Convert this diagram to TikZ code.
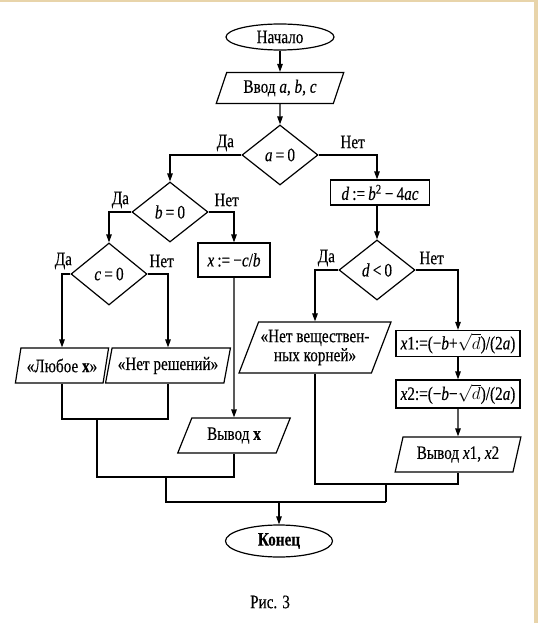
\documentclass[tikz,border=0pt]{standalone}
\usepackage{fontspec}
\setmainfont{Liberation Serif}[FakeStretch=0.8,FakeBold=0.3]
\usetikzlibrary{shapes.geometric,arrows.meta,calc}
\definecolor{beige}{RGB}{232,212,170}
\tikzset{
  base/.style={draw, line width=1.2pt, font=\fontsize{19}{19}\selectfont, inner sep=1pt},
  term/.style={base, ellipse, minimum width=108pt, minimum height=26pt},
  proc/.style={base, rectangle},
  dec/.style={base, diamond, minimum width=76pt, minimum height=60pt, inner sep=0pt},
  io/.style={base, trapezium, trapezium stretches=true, inner sep=0pt},
  lbl/.style={font=\fontsize{19}{19}\selectfont, inner sep=0pt},
  ln/.style={line width=1.2pt},
  arr/.style={ln, -{Triangle[length=8pt,width=5.5pt]}},
}
\begin{document}
\begin{tikzpicture}[x=1pt,y=-1pt]
\useasboundingbox (0,0) rectangle (538,623);
\fill[white] (0,0) rectangle (538,623);
\fill[beige] (0,0) rectangle (538,2);
\fill[beige] (534,0) rectangle (538,623);

\node[term] (start) at (280,37) {Начало};
\node[io, trapezium left angle=67, trapezium right angle=113, minimum width=128pt, minimum height=31pt] (inp) at (280,88) {Ввод \textit{a}, \textit{b}, \textit{c}};
\node[dec] (a0) at (280,155) {\textit{a}\,=\,0};
\node[dec] (b0) at (170,212) {\textit{b}\,=\,0};
\node[dec, minimum height=62pt] (c0) at (109,274) {\textit{c}\,=\,0};
\node[proc, minimum width=99pt, minimum height=25pt] (dd) at (380,192.5) {\textit{d}\,:=\,\textit{b}\textsuperscript{2}\,−\,4\textit{ac}};
\node[dec] (d0) at (377,270) {\textit{d}\,<\,0};
\node[proc, minimum width=72pt, minimum height=34pt] (xcb) at (234,260) {\textit{x}\,:=\,−\textit{c}/\textit{b}};
\node[io, trapezium left angle=71, trapezium right angle=109, minimum width=94pt, minimum height=35pt] (any) at (62,365.5) {«Любое \textbf{x}»};
\node[io, trapezium left angle=71, trapezium right angle=109, minimum width=125pt, minimum height=35pt] (nosol) at (168,365.5) {«Нет решений»};
\node[io, trapezium left angle=62, trapezium right angle=118, minimum width=152pt, minimum height=51pt, align=center] (noreal) at (315,347.5) {«Нет веществен-\\ных корней»};
\node[io, trapezium left angle=61, trapezium right angle=119, minimum width=113pt, minimum height=35pt] (outx) at (234,435.5) {Вывод \textbf{x}};
\node[proc, minimum width=124pt, minimum height=26pt, inner sep=0pt] (x1) at (458,343.5) {\textit{x}1:=(−\textit{b}+$\sqrt{d}$)/(2\textit{a})};
\node[proc, minimum width=124pt, minimum height=28pt, inner sep=0pt] (x2) at (458,394) {\textit{x}2:=(−\textit{b}−$\sqrt{d}$)/(2\textit{a})};
\node[io, trapezium left angle=70, trapezium right angle=110, minimum width=126pt, minimum height=35pt] (outx12) at (458,454.5) {Вывод \textit{x}1, \textit{x}2};
\node[term, minimum width=107pt, minimum height=32pt, font=\fontsize{19}{19}\selectfont\bfseries] (end) at (279,541) {Конец};
\node[font=\fontsize{19}{19}\selectfont] (cap) at (270,602) {Рис. 3};

% labels
\node[lbl] (la1) at ($(a0.west)+(-16,-12)$) {Да};
\node[lbl] (la2) at ($(a0.east)+(34,-13)$) {Нет};
\node[lbl] (lb1) at ($(b0.west)+(-11,-12)$) {Да};
\node[lbl] (lb2) at ($(b0.east)+(18,-12)$) {Нет};
\node[lbl] (lc1) at ($(c0.west)+(-7,-13)$) {Да};
\node[lbl] (lc2) at ($(c0.east)+(14,-13)$) {Нет};
\node[lbl] (ld1) at ($(d0.west)+(-12,-12)$) {Да};
\node[lbl] (ld2) at ($(d0.east)+(16,-12)$) {Нет};

% connectors
\draw[arr] (start) -- (inp);
\draw[arr] (inp) -- (a0);
\draw[arr] (a0.west) -| (b0.north);
\draw[arr] (a0.east) -| (d0.north |- dd.north);
\draw[arr] (d0.north |- dd.south) -- (d0);
\draw[arr] (b0.west) -| (c0.north);
\draw[arr] (b0.east) -| (xcb.north);
\draw[arr] (c0.west) -| (any.north);
\draw[arr] (c0.east) -| (nosol.north);
\draw[arr] (xcb.south) -- (outx.north);
\draw[arr] (d0.west) -| (noreal.north);
\draw[arr] (d0.east) -| (x1.north);
\draw[arr] (x1) -- (x2);
\draw[arr] (x2) -- (outx12);

\coordinate (j1) at (97,419);
\coordinate (j2) at (166,477);
\coordinate (j3) at (166,502);
\coordinate (j4) at (386,484);
\coordinate (j5) at (386,502);
\coordinate (jc) at (279,502);
\draw[ln] (any.south) |- (j1) -| (nosol.south);
\draw[ln] (j1) |- (j2) -| (outx.south);
\draw[ln] (j2) -- (j3) -- (j5);
\draw[ln] (noreal.south) |- (j4) -| (outx12.south);
\draw[ln] (j4) -- (j5);
\draw[arr] (jc) -- (end.north);
\end{tikzpicture}
\end{document}
